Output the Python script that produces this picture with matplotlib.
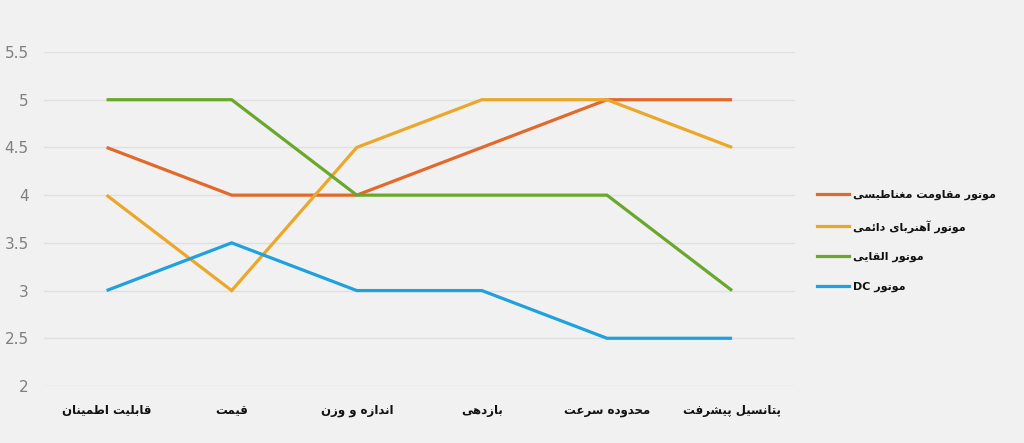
import matplotlib
matplotlib.use("Agg")
import matplotlib.pyplot as plt
from matplotlib.lines import Line2D

categories = ["قابلیت اطمینان", "قیمت", "اندازه و وزن", "بازدهی", "محدوده سرعت", "پتانسیل پیشرفت"]
series_names = ["موتور مقاومت مغناطیسی", "موتور آهنربای دائمی", "موتور القایی", "موتور DC"]
reluctance = [4.5, 4, 4, 4.5, 5, 5]
permanent_magnet = [4, 3, 4.5, 5, 5, 4.5]
induction = [5, 5, 4, 4, 4, 3]
dc_motor = [3, 3.5, 3, 3, 2.5, 2.5]
y_ticks = [2, 2.5, 3, 3.5, 4, 4.5, 5, 5.5]
y_tick_labels = ["2", "2.5", "3", "3.5", "4", "4.5", "5", "5.5"]
colors = ["#E2692B", "#EBA729", "#69A82C", "#1EA1DD"]

# --- minimal Arabic/Persian shaping (presentation forms) ---
FORMS = {
    "\u0627": (0xFE8D, 0xFE8E, None, None),
    "\u0622": (0xFE81, 0xFE82, None, None),
    "\u0628": (0xFE8F, 0xFE90, 0xFE91, 0xFE92),
    "\u067E": (0xFB56, 0xFB57, 0xFB58, 0xFB59),
    "\u062A": (0xFE95, 0xFE96, 0xFE97, 0xFE98),
    "\u062D": (0xFEA1, 0xFEA2, 0xFEA3, 0xFEA4),
    "\u062F": (0xFEA9, 0xFEAA, None, None),
    "\u0631": (0xFEAD, 0xFEAE, None, None),
    "\u0632": (0xFEAF, 0xFEB0, None, None),
    "\u0633": (0xFEB1, 0xFEB2, 0xFEB3, 0xFEB4),
    "\u0634": (0xFEB5, 0xFEB6, 0xFEB7, 0xFEB8),
    "\u0637": (0xFEC1, 0xFEC2, 0xFEC3, 0xFEC4),
    "\u0639": (0xFEC9, 0xFECA, 0xFECB, 0xFECC),
    "\u063A": (0xFECD, 0xFECE, 0xFECF, 0xFED0),
    "\u0641": (0xFED1, 0xFED2, 0xFED3, 0xFED4),
    "\u0642": (0xFED5, 0xFED6, 0xFED7, 0xFED8),
    "\u0644": (0xFEDD, 0xFEDE, 0xFEDF, 0xFEE0),
    "\u0645": (0xFEE1, 0xFEE2, 0xFEE3, 0xFEE4),
    "\u0646": (0xFEE5, 0xFEE6, 0xFEE7, 0xFEE8),
    "\u0647": (0xFEE9, 0xFEEA, 0xFEEB, 0xFEEC),
    "\u0648": (0xFEED, 0xFEEE, None, None),
    "\u0626": (0xFE89, 0xFE8A, 0xFE8B, 0xFE8C),
    "\u06CC": (0xFBFC, 0xFBFD, 0xFBFE, 0xFBFF),
    "\u064A": (0xFEF1, 0xFEF2, 0xFEF3, 0xFEF4),
}


def dual(c):
    return c in FORMS and FORMS[c][2] is not None


def shape_word(w):
    out = []
    for i, c in enumerate(w):
        if c not in FORMS:
            out.append(c)
            continue
        prev_j = i > 0 and dual(w[i - 1])
        next_j = dual(c) and i + 1 < len(w) and w[i + 1] in FORMS
        f = FORMS[c]
        if prev_j and next_j:
            code = f[3]
        elif prev_j:
            code = f[1]
        elif next_j:
            code = f[2]
        else:
            code = f[0]
        out.append(chr(code))
    return "".join(out)


def rtl(text):
    words = text.split(" ")
    res = []
    for w in words:
        if any(ch in FORMS for ch in w):
            res.append(shape_word(w)[::-1])
        else:
            res.append(w)
    return " ".join(res[::-1])


fam = ["DejaVu Sans"]
bg = "#F1F1F1"
fig = plt.figure(figsize=(10.24, 4.43), dpi=100, facecolor=bg)
ax = fig.add_axes([0.043, 0.1287, 0.733, 0.7539])
ax.set_facecolor(bg)

x = list(range(len(categories)))
data = [reluctance, permanent_magnet, induction, dc_motor]
for vals, col in zip(data, colors):
    ax.plot(x, vals, color=col, lw=2.3, solid_capstyle="butt", solid_joinstyle="miter", zorder=3)

ax.set_xlim(-0.5, len(categories) - 0.5)
ax.set_ylim(2, 5.5)
ax.set_yticks(y_ticks)
ax.set_yticklabels(y_tick_labels, color="#7F7F7F", fontsize=11)
ax.set_xticks(x)
ax.set_xticklabels([rtl(c) for c in categories], fontsize=8.5, fontweight="bold",
                   color="#111111", family=fam)
ax.tick_params(axis="both", length=0)
ax.tick_params(axis="y", pad=11)
ax.tick_params(axis="x", pad=13)
ax.yaxis.grid(True, color="#E0E0E0", lw=1)
ax.set_axisbelow(True)
for s in ax.spines.values():
    s.set_visible(False)

# legend
handles = [Line2D([0], [0], color=c, lw=2.3) for c in colors]
leg = fig.legend(handles, [rtl(n) for n in series_names], loc="center left",
                 bbox_to_anchor=(0.798, 0.456), frameon=False, borderpad=0, borderaxespad=0,
                 handlelength=2.9, handletextpad=0.35,
                 labelspacing=1.75, prop={"size": 8, "weight": "bold", "family": fam})
for t in leg.get_texts():
    t.set_color("#111111")

fig.savefig("out.png", dpi=100, facecolor=bg)
